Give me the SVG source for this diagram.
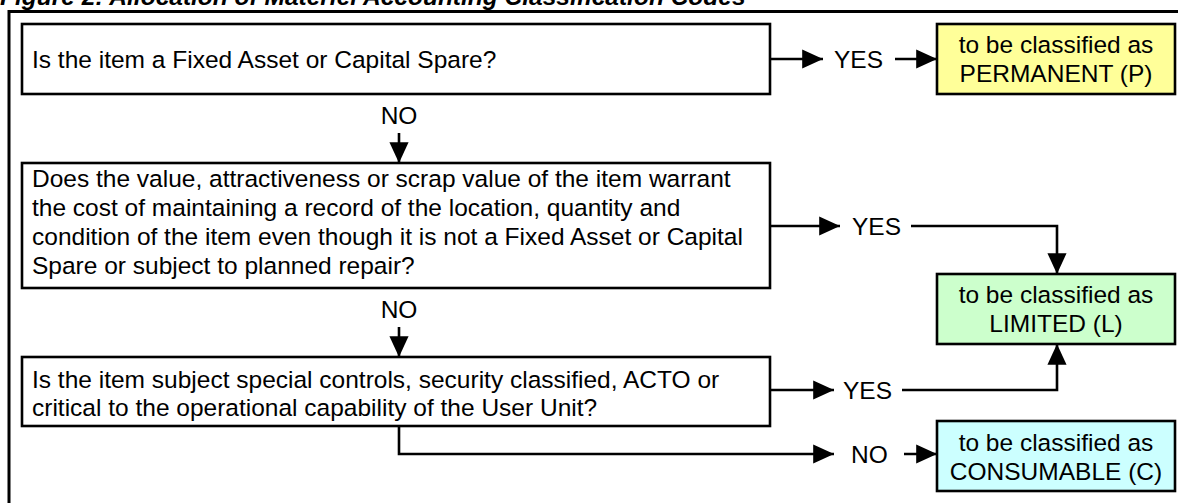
<svg xmlns="http://www.w3.org/2000/svg" width="1178" height="503" viewBox="0 0 1178 503">
  <style>
    .t { font-family: "Liberation Sans", Arial, sans-serif; font-size: 24.5px; fill: #000; }
    .c { text-anchor: middle; }
    .box { fill: #fff; stroke: #000; stroke-width: 2.6; }
    .ln { fill: none; stroke: #000; stroke-width: 2.6; }
  </style>
  <defs>
    <marker id="ah" viewBox="0 0 10 10" refX="10" refY="5" markerWidth="8" markerHeight="8" markerUnits="strokeWidth" orient="auto">
      <path d="M0,0.4 L10,5 L0,9.6 Z" fill="#000"/>
    </marker>
  </defs>
  <rect width="1178" height="503" fill="#fff"/>
  <text x="0" y="5" style="font-family:'Liberation Sans',Arial,sans-serif;font-size:24.5px;font-weight:bold;font-style:italic">Figure 2: Allocation of Materiel Accounting Classification Codes</text>
  <path d="M9,503 V11.5 H1178" fill="none" stroke="#000" stroke-width="3"/>

  <g id="q1">
    <rect class="box" x="22" y="24" width="748" height="70"/>
    <text class="t" x="32" y="68">Is the item a Fixed Asset or Capital Spare?</text>
  </g>
  <g id="permanent">
    <rect class="box" x="937" y="24" width="238" height="70" style="fill:#ffff99"/>
    <text class="t c" x="1056" y="53">to be classified as</text>
    <text class="t c" x="1056" y="82">PERMANENT (P)</text>
  </g>
  <g id="q2">
    <rect class="box" x="22" y="163" width="748" height="125"/>
    <text class="t" x="32" y="187">Does the value, attractiveness or scrap value of the item warrant</text>
    <text class="t" x="32" y="216">the cost of maintaining a record of the location, quantity and</text>
    <text class="t" x="32" y="245">condition of the item even though it is not a Fixed Asset or Capital</text>
    <text class="t" x="32" y="274">Spare or subject to planned repair?</text>
  </g>
  <g id="limited">
    <rect class="box" x="937" y="274" width="238" height="70" style="fill:#ccffcc"/>
    <text class="t c" x="1056" y="303">to be classified as</text>
    <text class="t c" x="1056" y="332">LIMITED (L)</text>
  </g>
  <g id="q3">
    <rect class="box" x="22" y="357" width="748" height="69"/>
    <text class="t" x="32" y="388">Is the item subject special controls, security classified, ACTO or</text>
    <text class="t" x="32" y="416">critical to the operational capability of the User Unit?</text>
  </g>
  <g id="consumable">
    <rect class="box" x="937" y="421" width="238" height="70" style="fill:#ccffff"/>
    <text class="t c" x="1056" y="451">to be classified as</text>
    <text class="t c" x="1056" y="480">CONSUMABLE (C)</text>
  </g>

  <g id="connectors">
    <line class="ln" x1="770" y1="59" x2="823" y2="59" marker-end="url(#ah)"/>
    <text class="t" x="834" y="68">YES</text>
    <line class="ln" x1="895" y1="59" x2="937" y2="59" marker-end="url(#ah)"/>

    <text class="t c" x="399" y="124">NO</text>
    <line class="ln" x1="399" y1="133" x2="399" y2="163" marker-end="url(#ah)"/>

    <line class="ln" x1="770" y1="226" x2="840" y2="226" marker-end="url(#ah)"/>
    <text class="t" x="852" y="235">YES</text>
    <polyline class="ln" points="911,226 1057,226 1057,274" marker-end="url(#ah)"/>

    <text class="t c" x="399" y="318">NO</text>
    <line class="ln" x1="399" y1="327" x2="399" y2="357" marker-end="url(#ah)"/>

    <line class="ln" x1="770" y1="390" x2="834" y2="390" marker-end="url(#ah)"/>
    <text class="t" x="843" y="399">YES</text>
    <polyline class="ln" points="902,390 1057,390 1057,344" marker-end="url(#ah)"/>

    <polyline class="ln" points="399,426 399,454 834,454" marker-end="url(#ah)"/>
    <text class="t" x="851" y="463">NO</text>
    <line class="ln" x1="904" y1="454" x2="937" y2="454" marker-end="url(#ah)"/>
  </g>
</svg>
